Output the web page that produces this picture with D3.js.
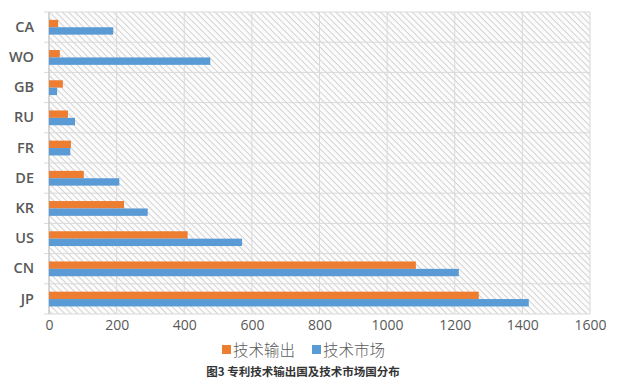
<!DOCTYPE html>
<html><head><meta charset="utf-8">
<script src="https://cdn.jsdelivr.net/npm/d3@7"></script>
<style>
body{margin:0;background:#fff;}
svg{display:block;}
</style></head>
<body>
<svg id="chart" width="625" height="390"></svg>
<script>
const categories = ["CA","WO","GB","RU","FR","DE","KR","US","CN","JP"];
const exportValues = [27, 32, 41, 56, 65, 103, 222, 410, 1085, 1271];
const marketValues = [190, 477, 24, 77, 63, 208, 292, 571, 1212, 1419];
const xTicks = [0,200,400,600,800,1000,1200,1400,1600];
const seriesNames = ["技术输出","技术市场"];
const seriesColors = ["#ED7D31","#5B9BD5"];
const caption = "图3 专利技术输出国及技术市场国分布";

const svg = d3.select("#chart");
const m = {left:49, right:590, top:12, bottom:314};

const defs = svg.append("defs");
const pat = defs.append("pattern").attr("id","hatch").attr("patternUnits","userSpaceOnUse")
  .attr("width",4.5).attr("height",4.5).attr("patternTransform","rotate(45)");
pat.append("rect").attr("width",4.5).attr("height",4.5).attr("fill","#fcfcfc");
pat.append("line").attr("x1",0).attr("y1",0).attr("x2",4.5).attr("y2",0)
  .attr("stroke","#d2d2d2").attr("stroke-width",2);

const x = d3.scaleLinear().domain([0,1600]).range([m.left,m.right]);
const y = d3.scaleBand().domain(categories).range([m.top,m.bottom]).paddingInner(0).paddingOuter(0);

svg.append("rect").attr("x",m.left).attr("y",m.top).attr("width",m.right-m.left).attr("height",m.bottom-m.top)
  .attr("fill","url(#hatch)");

// vertical gridlines
svg.append("g").selectAll("line").data(xTicks).join("line")
  .attr("x1",d=>x(d)).attr("x2",d=>x(d)).attr("y1",m.top).attr("y2",m.bottom)
  .attr("stroke","#d9d9d9").attr("stroke-width",1);
// horizontal boundaries
const bounds = categories.map(c=>y(c)).concat([m.bottom]);
svg.append("g").selectAll("line").data(bounds).join("line")
  .attr("x1",m.left-5).attr("x2",m.right).attr("y1",d=>d).attr("y2",d=>d)
  .attr("stroke","#d9d9d9").attr("stroke-width",1);
svg.append("line").attr("x1",m.left).attr("x2",m.left).attr("y1",m.top).attr("y2",m.bottom)
  .attr("stroke","#bfbfbf");

const bw = y.bandwidth();
const g = svg.append("g");
g.selectAll(".exp").data(categories).join("rect").attr("class","exp")
  .attr("x",x(0)).attr("y",(c)=>y(c)+bw*0.26).attr("height",bw*0.245)
  .attr("width",(c,i)=>x(exportValues[i])-x(0)).attr("fill",seriesColors[0]);
g.selectAll(".mkt").data(categories).join("rect").attr("class","mkt")
  .attr("x",x(0)).attr("y",(c)=>y(c)+bw*0.505).attr("height",bw*0.245)
  .attr("width",(c,i)=>x(marketValues[i])-x(0)).attr("fill",seriesColors[1]);

// axes labels
const xAxis = d3.axisBottom(x).tickValues(xTicks).tickFormat(d3.format("d")).tickSize(0).tickPadding(6);
const xa = svg.append("g").attr("transform",`translate(0,${m.bottom})`).call(xAxis);
xa.select(".domain").remove();
xa.selectAll("text").attr("font-family","'Open Sans', sans-serif").attr("font-size",14).attr("fill","#595959");

const yAxis = d3.axisLeft(y).tickSize(0).tickPadding(15);
const ya = svg.append("g").attr("transform",`translate(${m.left},0)`).call(yAxis);
ya.select(".domain").remove();
ya.selectAll("text").attr("font-family","'Open Sans', sans-serif").attr("font-size",14.5)
  .attr("font-weight",600).attr("fill","#595959");

// legend
const leg = svg.append("g").attr("font-family","'Noto Sans CJK SC', sans-serif");
const legX = [222, 312];
seriesNames.forEach((n,i)=>{
  leg.append("rect").attr("x",legX[i]).attr("y",345).attr("width",9).attr("height",9).attr("fill",seriesColors[i]);
  leg.append("text").attr("x",legX[i]+11).attr("y",350).attr("dy","0.36em")
    .attr("font-size",15.5).attr("font-weight",300).attr("fill","#595959").text(n);
});

svg.append("text").attr("x",303).attr("y",372).attr("dy","0.36em").attr("text-anchor","middle")
  .attr("font-family","'Noto Sans CJK SC', sans-serif").attr("font-size",11.5).attr("font-weight","bold")
  .attr("fill","#333").text(caption);
</script>
</body></html>
